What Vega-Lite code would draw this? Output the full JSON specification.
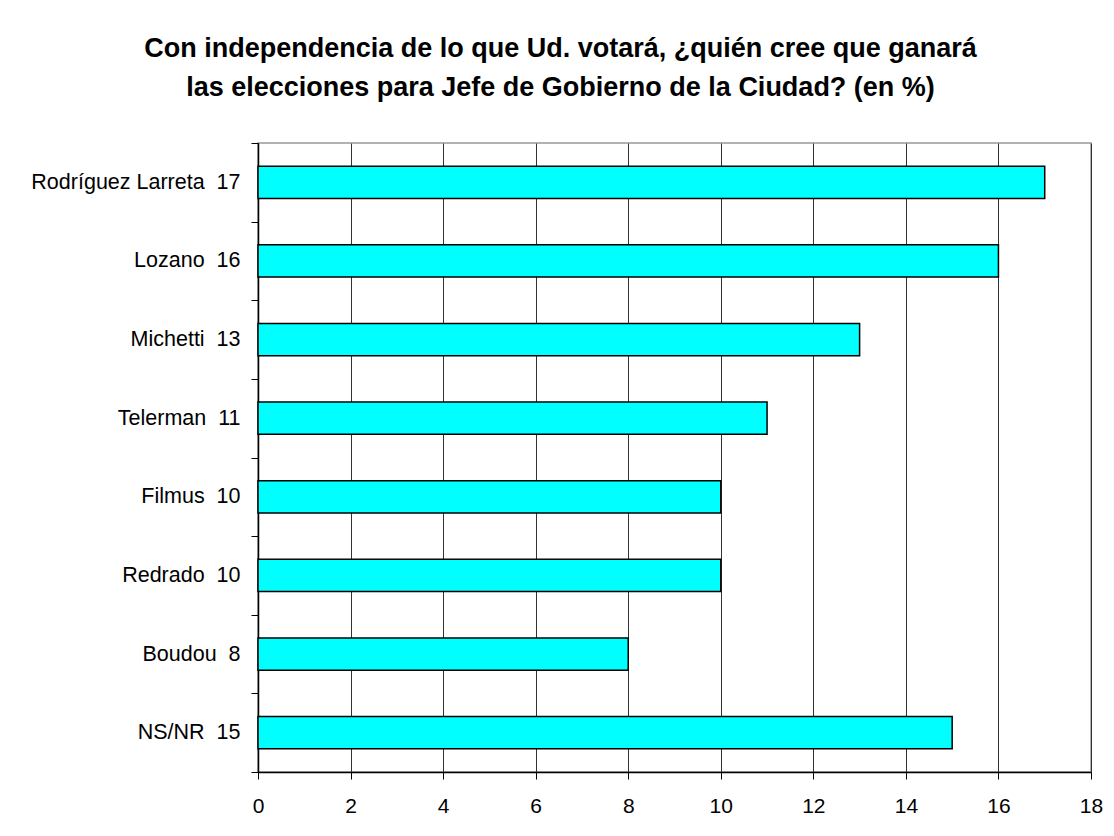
{
  "$schema": "https://vega.github.io/schema/vega-lite/v6.json",
  "autosize": "none",
  "padding": {"left": 258, "top": 143, "right": 23, "bottom": 64},
  "width": 833,
  "height": 629,
  "background": "white",
  "title": {
    "text": ["Con independencia de lo que Ud. votará, ¿quién cree que ganará", "las elecciones para Jefe de Gobierno de la Ciudad? (en %)"],
    "anchor": "middle",
    "frame": "group",
    "dx": -114,
    "font": "Liberation Sans",
    "fontSize": 27,
    "fontWeight": "bold",
    "color": "black",
    "lineHeight": 39,
    "baseline": "alphabetic",
    "offset": 9
  },
  "data": {
    "values": [
      {"candidato": "Rodríguez Larreta\u00a0 17", "valor": 17},
      {"candidato": "Lozano\u00a0 16", "valor": 16},
      {"candidato": "Michetti\u00a0 13", "valor": 13},
      {"candidato": "Telerman\u00a0 11", "valor": 11},
      {"candidato": "Filmus\u00a0 10", "valor": 10},
      {"candidato": "Redrado\u00a0 10", "valor": 10},
      {"candidato": "Boudou\u00a0 8", "valor": 8},
      {"candidato": "NS/NR\u00a0 15", "valor": 15}
    ]
  },
  "mark": {"type": "bar", "fill": "#00FFFF", "stroke": "black", "strokeWidth": 1.5, "height": {"band": 0.41}},
  "encoding": {
    "y": {
      "field": "candidato",
      "type": "nominal",
      "sort": null,
      "scale": {"paddingInner": 0, "paddingOuter": 0},
      "axis": {
        "title": null,
        "tickBand": "extent",
        "grid": false,
        "domainColor": "black",
        "domainWidth": 1.5,
        "tickColor": "black",
        "tickSize": 7,
        "tickWidth": 1,
        "labelFont": "Liberation Sans",
        "labelFontSize": 21.5,
        "labelColor": "black",
        "labelPadding": 11,
        "labelLimit": 300
      }
    },
    "x": {
      "field": "valor",
      "type": "quantitative",
      "scale": {"domain": [0, 18], "nice": false},
      "axis": {
        "title": null,
        "values": [0, 2, 4, 6, 8, 10, 12, 14, 16, 18],
        "grid": true,
        "gridColor": "#333",
        "gridWidth": 1,
        "gridOpacity": 1,
        "domainColor": "black",
        "domainWidth": 1.5,
        "tickColor": "black",
        "tickSize": 7,
        "labelFlush": false,
        "labelFont": "Liberation Sans",
        "labelFontSize": 21,
        "labelColor": "black",
        "labelPadding": 16
      }
    }
  },
  "config": {
    "view": {"stroke": "#999", "strokeWidth": 1.5}
  }
}
